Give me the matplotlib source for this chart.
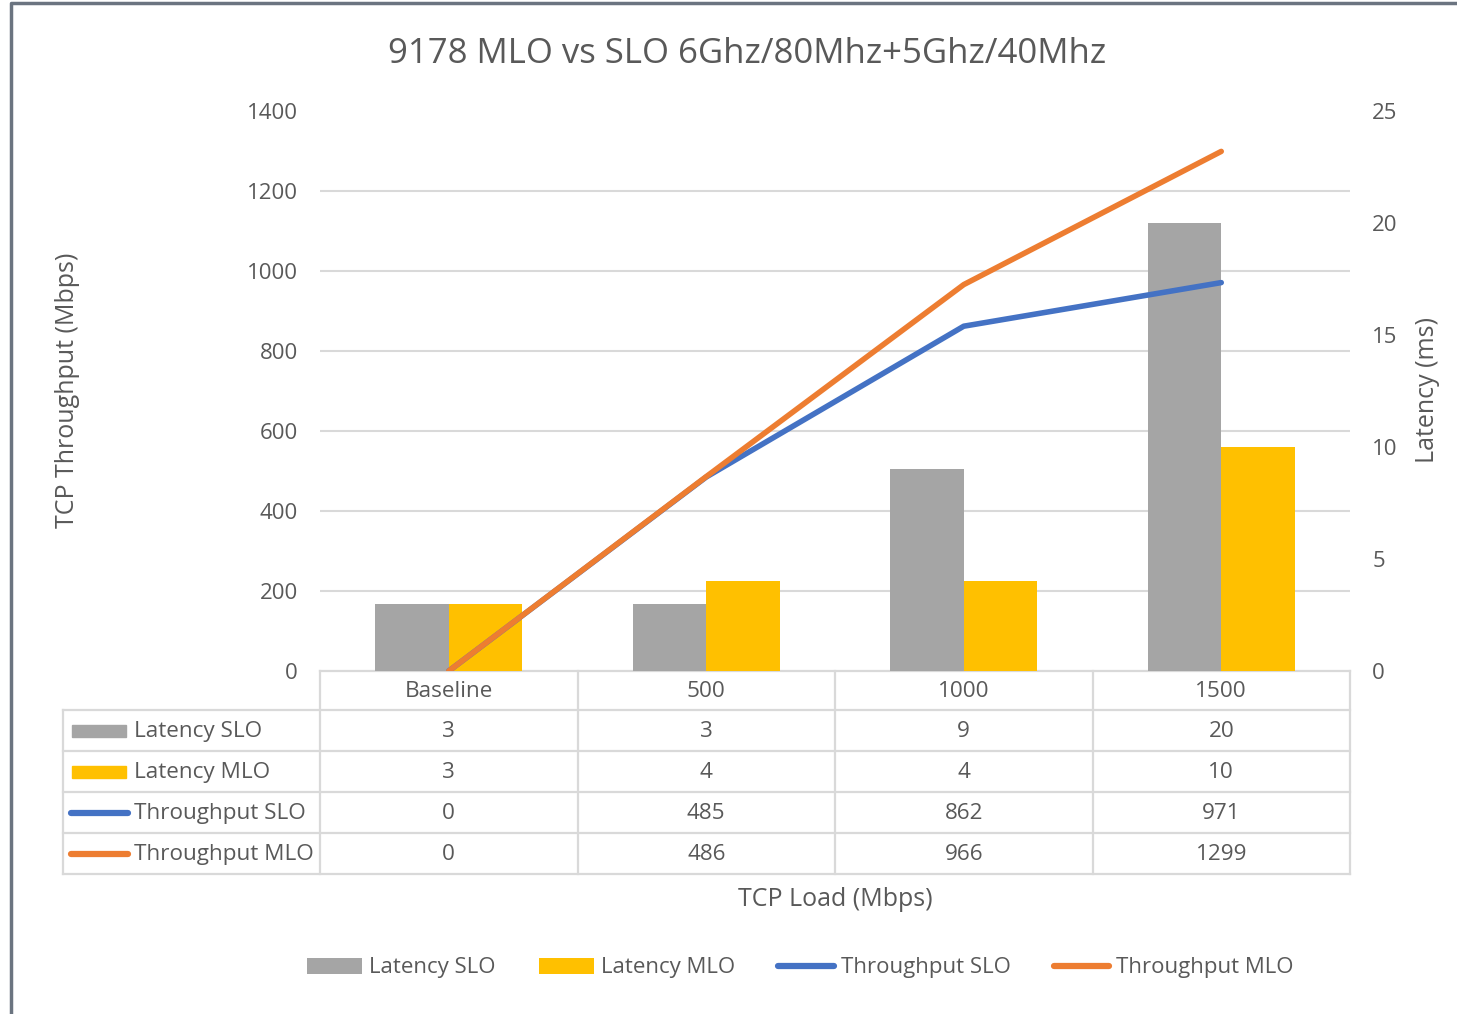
import matplotlib
matplotlib.use("Agg")
import matplotlib.pyplot as plt
from matplotlib.lines import Line2D
from matplotlib.patches import Patch, Rectangle

categories = ['Baseline', '500', '1000', '1500']
latency_slo = [3, 3, 9, 20]
latency_mlo = [3, 4, 4, 10]
throughput_slo = [0, 485, 862, 971]
throughput_mlo = [0, 486, 966, 1299]
left_ticks = [0, 200, 400, 600, 800, 1000, 1200, 1400]
right_ticks = [0, 5, 10, 15, 20, 25]

GRAY = '#a5a5a5'
YELLOW = '#ffc000'
BLUE = '#4472c4'
ORANGE = '#ed7d31'
TXT = '#595959'
GRID = '#d9d9d9'

plt.rcParams['font.family'] = ['Open Sans', 'DejaVu Sans']

W, H = 1457, 1014
fig = plt.figure(figsize=(W / 100, H / 100), dpi=100)

def fx(px):
    return px / W

def fy(py):
    return 1 - py / H

# plot area
x0, x1, ytop, ybot = 320, 1350, 111, 671
ax = fig.add_axes([fx(x0), fy(ybot), fx(x1) - fx(x0), fy(ytop) - fy(ybot)])
ax2 = ax.twinx()
ax.set_zorder(ax2.get_zorder() + 1)
ax.patch.set_visible(False)

n = len(categories)
xs = list(range(n))
bw = 0.285
ax2.bar([x - bw / 2 for x in xs], latency_slo, width=bw, color=GRAY, zorder=2)
ax2.bar([x + bw / 2 for x in xs], latency_mlo, width=bw, color=YELLOW, zorder=2)
ax2.set_ylim(0, 25)
ax2.set_yticks(right_ticks)
ax2.set_yticks([t * 25 / 1400 for t in left_ticks], minor=True)
ax2.grid(True, which='minor', axis='y', color=GRID, lw=1.5, zorder=0)
ax2.set_axisbelow(True)
ax2.tick_params(axis='y', which='both', length=0, labelsize=16, colors=TXT, pad=16)

ax.plot(xs, throughput_slo, color=BLUE, lw=4, solid_capstyle='round', zorder=5)
ax.plot(xs, throughput_mlo, color=ORANGE, lw=4, solid_capstyle='round', zorder=6)
ax.set_ylim(0, 1400)
ax.set_yticks(left_ticks)
ax.set_xlim(-0.5, n - 0.5)
ax.set_xticks([])
ax.tick_params(axis='y', length=0, labelsize=16, colors=TXT, pad=16)
for a in (ax, ax2):
    for s in a.spines.values():
        s.set_visible(False)

# overlay axes in pixel coordinates for table, labels, frame
ov = fig.add_axes([0, 0, 1, 1], zorder=-1)
ov.set_xlim(0, W)
ov.set_ylim(H, 0)
ov.axis('off')

# frame
ov.plot([11, 11, W], [H, 3, 3], color='#6b7480', lw=2.5, solid_capstyle='butt')

# table
colw = (x1 - x0) / n
rows_y = [671, 710, 751, 792, 833, 874]
lab_x0 = 63
lw_t = 1.6
ov.plot([x0, x1], [rows_y[0], rows_y[0]], color=GRID, lw=lw_t)
for yy in rows_y[1:]:
    ov.plot([lab_x0, x1], [yy, yy], color=GRID, lw=lw_t)
ov.plot([lab_x0, lab_x0], [rows_y[1], rows_y[-1]], color=GRID, lw=lw_t)
for i in range(n + 1):
    xx = x0 + i * colw
    ov.plot([xx, xx], [rows_y[0], rows_y[-1]], color=GRID, lw=lw_t)

fs_t = 16.2
for i, c in enumerate(categories):
    cx = x0 + (i + 0.5) * colw
    ov.text(cx, (rows_y[0] + rows_y[1]) / 2 + 1, c, ha='center', va='center', fontsize=fs_t, color=TXT)

series = [('Latency SLO', latency_slo, GRAY, 'bar'),
          ('Latency MLO', latency_mlo, YELLOW, 'bar'),
          ('Throughput SLO', throughput_slo, BLUE, 'line'),
          ('Throughput MLO', throughput_mlo, ORANGE, 'line')]
for r, (name, vals, col, kind) in enumerate(series):
    cy = (rows_y[r + 1] + rows_y[r + 2]) / 2
    if kind == 'bar':
        ov.add_patch(Rectangle((72, cy - 6), 54, 12, color=col))
    else:
        ov.plot([71, 128], [cy, cy], color=col, lw=4.5, solid_capstyle='round')
    ov.text(134, cy + 1, name, ha='left', va='center', fontsize=fs_t, color=TXT)
    for i, v in enumerate(vals):
        cx = x0 + (i + 0.5) * colw
        ov.text(cx, cy + 1, str(v), ha='center', va='center', fontsize=fs_t, color=TXT)

# titles and labels
fig.text(fx(747), fy(54), '9178 MLO vs SLO 6Ghz/80Mhz+5Ghz/40Mhz', ha='center', va='center',
         fontsize=25, color=TXT)
fig.text(fx(68), fy(390), 'TCP Throughput (Mbps)', ha='center', va='center', rotation=90,
         fontsize=18, color=TXT)
fig.text(fx(1428), fy(390), 'Latency (ms)', ha='center', va='center', rotation=90,
         fontsize=18, color=TXT)
fig.text(fx(835), fy(899), 'TCP Load (Mbps)', ha='center', va='center', fontsize=18, color=TXT)

# legend
handles = [Patch(facecolor=GRAY), Patch(facecolor=YELLOW),
           Line2D([], [], color=BLUE, lw=4.5, solid_capstyle='round'),
           Line2D([], [], color=ORANGE, lw=4.5, solid_capstyle='round')]
labels = [s[0] for s in series]
leg = fig.legend(handles, labels, loc='center', bbox_to_anchor=(fx(800), fy(968)), ncol=4,
                 frameon=False, fontsize=16, handlelength=2.5, handletextpad=0.3,
                 columnspacing=1.95, labelcolor=TXT)

fig.savefig('out.png', dpi=100, facecolor='white')
